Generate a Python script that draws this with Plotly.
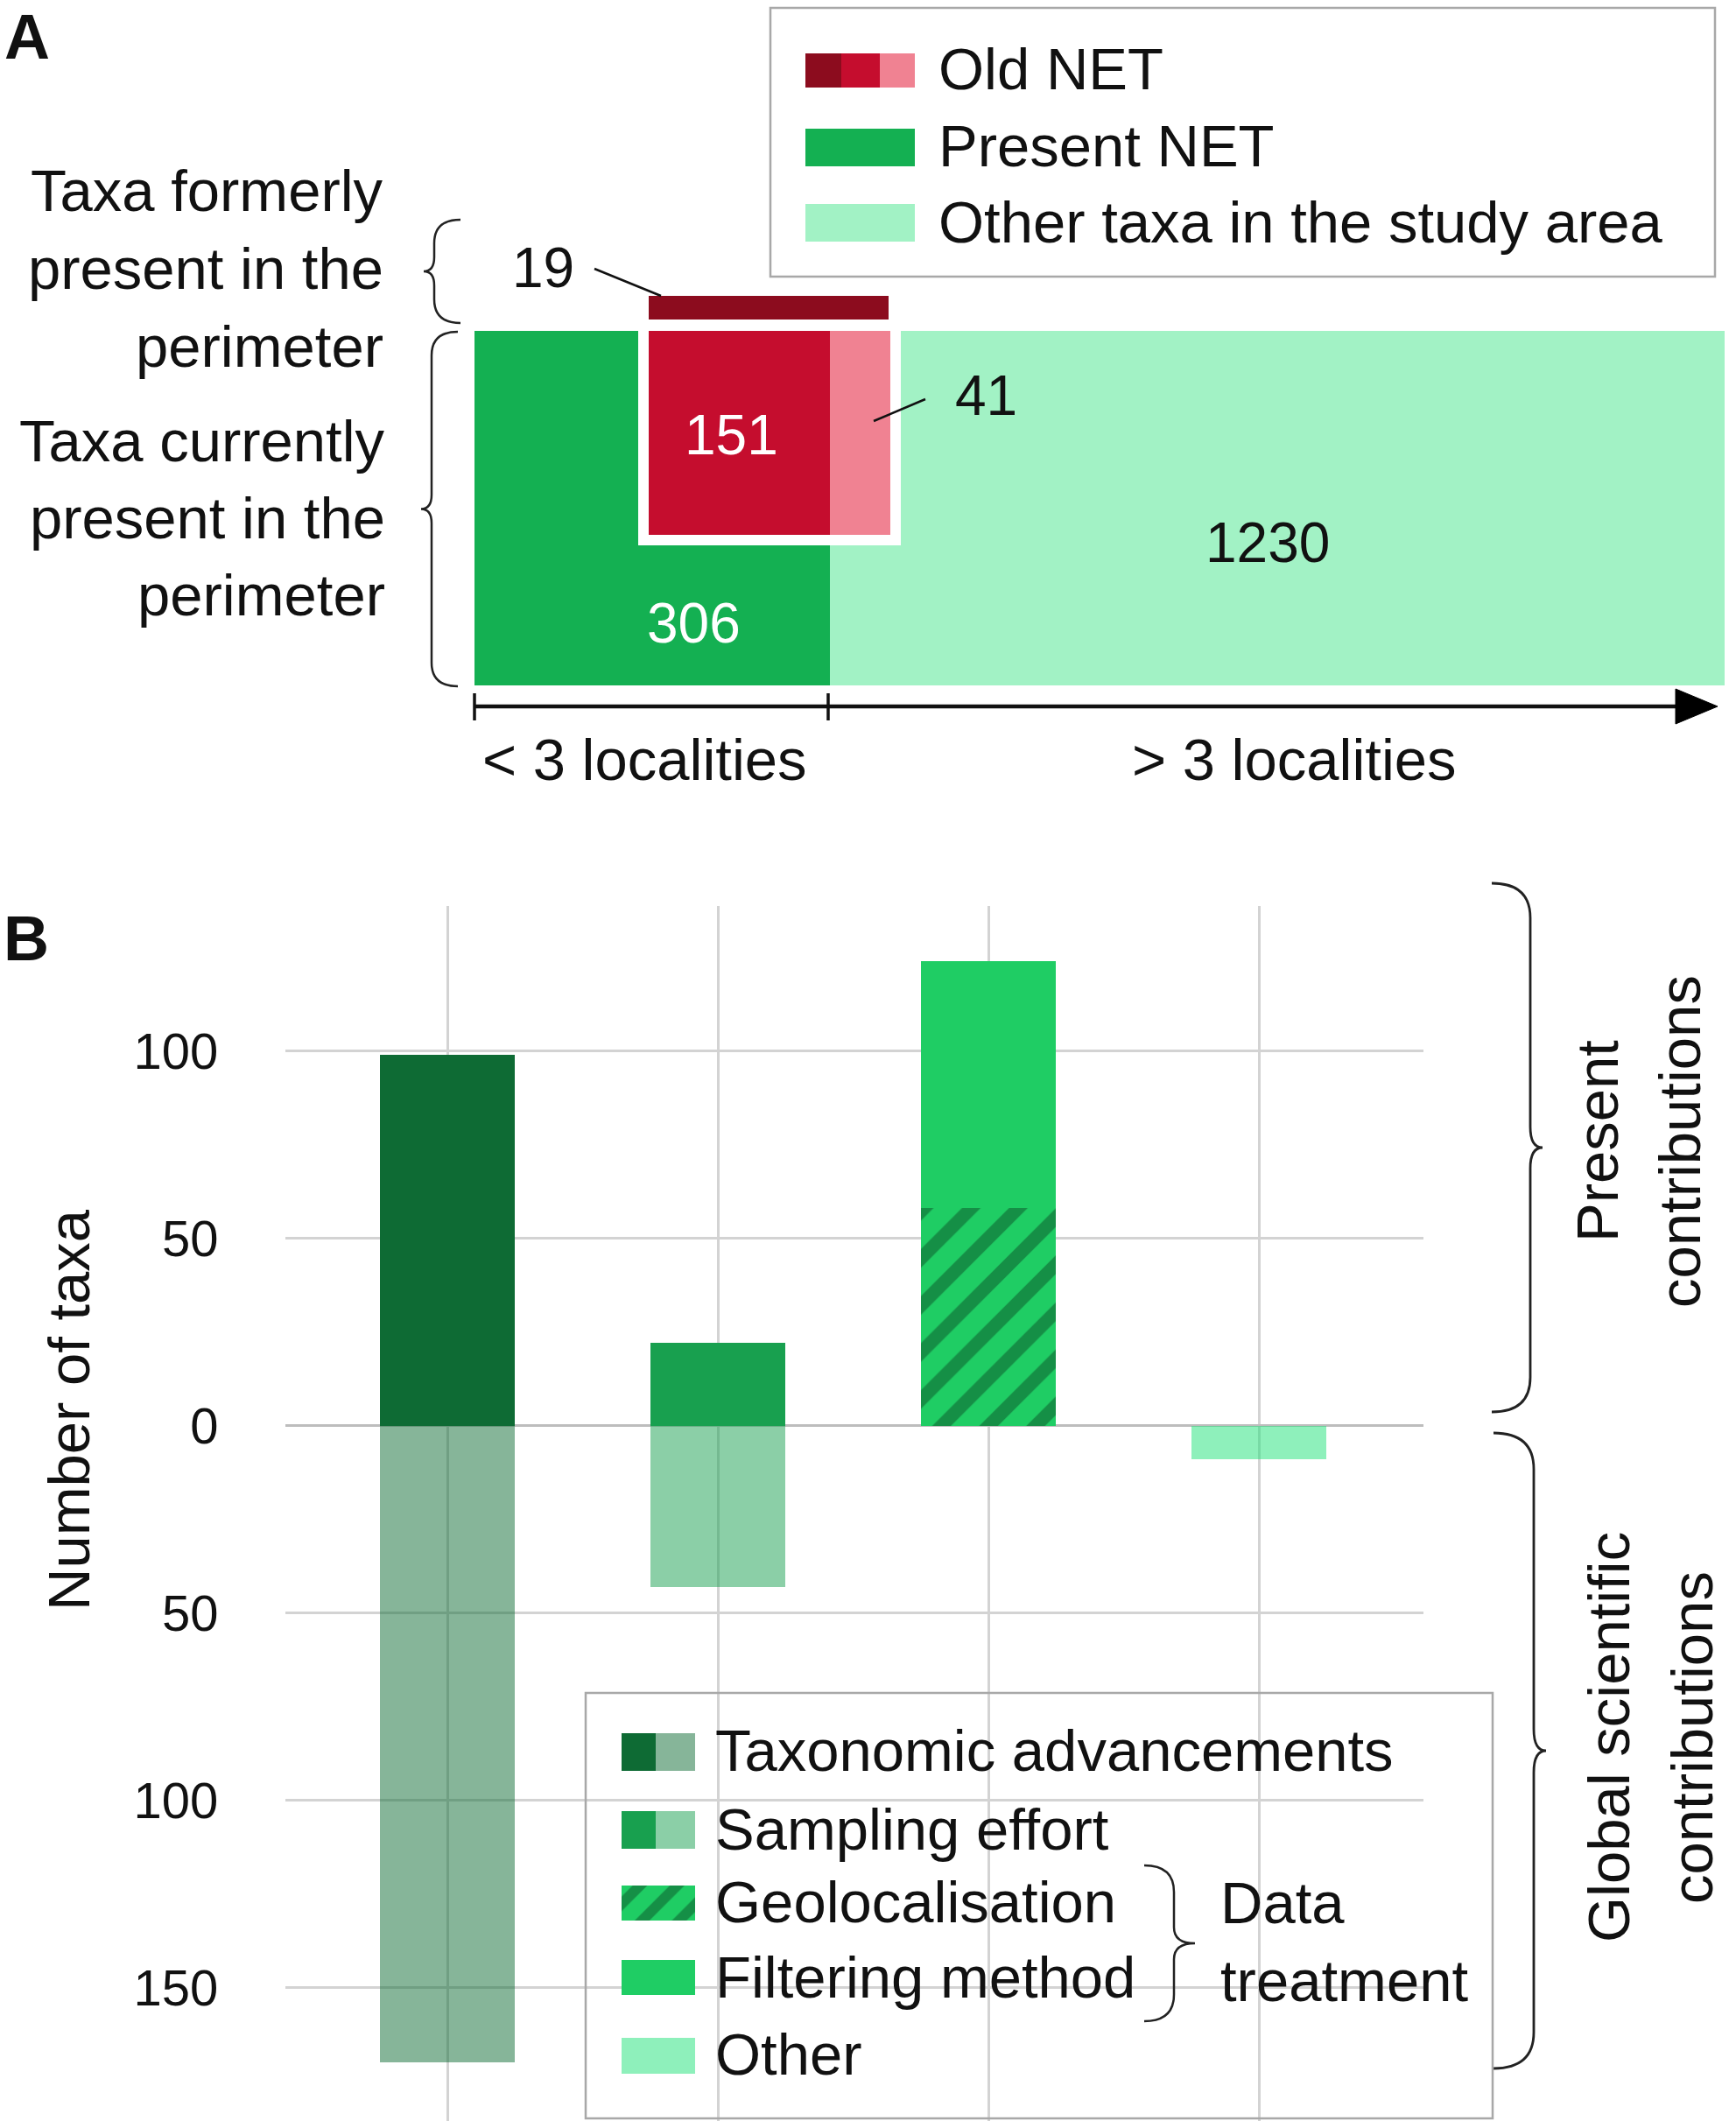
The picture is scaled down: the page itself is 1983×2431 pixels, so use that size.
import plotly.graph_objects as go

# ---------------- DATA ----------------
# Panel A (schematic counts)
former_old_net = 19          # taxa formerly present (old NET)
old_net_lt3 = 151            # old NET, < 3 localities, currently present
old_net_gt3 = 41             # old NET, > 3 localities, currently present
present_net = 306            # present NET
other_taxa = 1230            # other taxa in study area
axis_a_labels = ["< 3 localities", "> 3 localities"]
row_labels_former = ["Taxa formerly", "present in the", "perimeter"]
row_labels_current = ["Taxa currently", "present in the", "perimeter"]
legend_a_labels = ["Old NET", "Present NET", "Other taxa in the study area"]

# Panel B
categories = ["Taxonomic advancements", "Sampling effort", "Data treatment", "Other"]
cat_pos = [0, 1, 2, 3]
taxonomic_present = [99]
taxonomic_global = [170]
sampling_present = [22]
sampling_global = [43]
geolocalisation_present = [58]
filtering_present = [66]
other_global = [9]
y_tickvals = [100, 50, 0, -50, -100, -150]
y_ticktext = ["100", "50", "0", "50", "100", "150"]
legend_b_labels = ["Taxonomic advancements", "Sampling effort", "Geolocalisation",
                   "Filtering method", "Other"]

# ---------------- STYLE ----------------
W, H = 1983, 2431
FONT = "Liberation Sans, Arial, sans-serif"
TXT = "#111111"
FS = 67

C_TAX = "rgb(14,107,52)"
C_TAX_G = "rgba(14,107,52,0.5)"
C_SAMP = "rgb(24,160,79)"
C_SAMP_G = "rgba(24,160,79,0.5)"
C_FILT = "rgb(31,205,100)"
C_HATCH = "rgb(12,82,40)"
C_OTHER = "rgba(30,225,120,0.5)"

C_A_GREEN = "#14b052"
C_A_LIGHT = "#a2f2c5"
C_A_DARKRED = "#8c0c1e"
C_A_RED = "#c50d2e"
C_A_PINK = "#f08292"

fig = go.Figure()

# ---------------- PANEL B bars ----------------
BW = 0.5
fig.add_trace(go.Bar(x=[cat_pos[0]], y=taxonomic_present, width=BW, marker_color=C_TAX,
                     marker_line_width=0, name="Taxonomic advancements"))
fig.add_trace(go.Bar(x=[cat_pos[0]], y=[-v for v in taxonomic_global], width=BW,
                     marker_color=C_TAX_G, marker_line_width=0, name="Taxonomic (global)"))
fig.add_trace(go.Bar(x=[cat_pos[1]], y=sampling_present, width=BW, marker_color=C_SAMP,
                     marker_line_width=0, name="Sampling effort"))
fig.add_trace(go.Bar(x=[cat_pos[1]], y=[-v for v in sampling_global], width=BW,
                     marker_color=C_SAMP_G, marker_line_width=0, name="Sampling (global)"))
fig.add_trace(go.Bar(x=[cat_pos[2]], y=geolocalisation_present, width=BW,
                     marker=dict(color=C_FILT, line_width=0,
                                 pattern=dict(shape="/", fgcolor=C_HATCH, bgcolor=C_FILT,
                                              size=38, solidity=0.4, fillmode="overlay")),
                     name="Geolocalisation"))
fig.add_trace(go.Bar(x=[cat_pos[2]], y=filtering_present, base=geolocalisation_present,
                     width=BW, marker_color=C_FILT, marker_line_width=0,
                     name="Filtering method"))
fig.add_trace(go.Bar(x=[cat_pos[3]], y=[-v for v in other_global], width=BW,
                     marker_color=C_OTHER, marker_line_width=0, name="Other"))


# ---------------- overlay helpers (page coordinates) ----------------
def rect(x0, x1, y0, y1, color, pattern=None):
    m = dict(color=color, line_width=0)
    if pattern:
        m["pattern"] = pattern
    fig.add_trace(go.Bar(x=[(x0 + x1) / 2], y=[y1 - y0], base=[y0], width=[x1 - x0],
                         marker=m, xaxis="x2", yaxis="y2", hoverinfo="skip",
                         showlegend=False))


def text(x, y, s, size=FS, color=TXT, xanchor="center", angle=0, bold=False,
         yanchor="middle"):
    fig.add_annotation(x=x, y=y, xref="x2", yref="y2", text=("<b>%s</b>" % s) if bold else s,
                       showarrow=False, xanchor=xanchor, yanchor=yanchor, textangle=angle,
                       font=dict(family=FONT, size=size, color=color))


shapes = []


def line(x0, y0, x1, y1, width=2.5, color="#111"):
    shapes.append(dict(type="line", xref="x2", yref="y2", x0=x0, y0=y0, x1=x1, y1=y1,
                       line=dict(color=color, width=width), layer="above"))


def brace(xl, y0, y1, w, cusp, width=2.5):
    ym = (y0 + y1) / 2
    r = abs(w) * 0.9
    d = -1 if w > 0 else 1
    p = (f"M {xl + w},{y0} Q {xl},{y0} {xl},{y0 + r} L {xl},{ym - r * 0.6} "
         f"Q {xl},{ym} {xl + d * cusp},{ym} Q {xl},{ym} {xl},{ym + r * 0.6} "
         f"L {xl},{y1 - r} Q {xl},{y1} {xl + w},{y1}")
    shapes.append(dict(type="path", xref="x2", yref="y2", path=p,
                       line=dict(color="#222", width=width), layer="above"))


def box(x0, y0, x1, y1):
    shapes.append(dict(type="rect", xref="x2", yref="y2", x0=x0, y0=y0, x1=x1, y1=y1,
                       line=dict(color="#a8a8a8", width=2.5), fillcolor="rgba(0,0,0,0)",
                       layer="above"))


# ---------------- PANEL A ----------------
text(3, 0, "A", size=72, xanchor="left", bold=True, yanchor="top")

# mosaic
rect(542, 948, 378, 783, C_A_GREEN)
rect(948, 1970, 378, 783, C_A_LIGHT)
rect(729, 1029, 378, 623, "#ffffff")
rect(741, 948, 378, 611, C_A_RED)
rect(948, 1017, 378, 611, C_A_PINK)
rect(741, 1015, 338, 365, C_A_DARKRED)

text(835, 497, str(old_net_lt3), size=64, color="#ffffff")
text(792, 712, str(present_net), size=64, color="#ffffff")
text(1448, 620, str(other_taxa), size=64)
text(620, 306, str(former_old_net), size=64)
text(1126, 452, str(old_net_gt3), size=64)
line(679, 307, 755, 338)
line(998, 481, 1057, 456)

# row labels
for i, s in enumerate(row_labels_former):
    text(440, 217 + i * 89, s, xanchor="right")
for i, s in enumerate(row_labels_current):
    text(442, 503 + i * 88, s, xanchor="right")
brace(496, 251, 369, 30, 12)
brace(493, 379, 784, 30, 12)

# localities axis
line(542, 807, 1925, 807, width=4.5)
line(542, 792, 542, 823, width=3.5)
line(946, 792, 946, 823, width=3.5)
shapes.append(dict(type="path", xref="x2", yref="y2",
                   path="M 1914,787 L 1962,807 L 1914,827 Z",
                   fillcolor="#000", line=dict(color="#000", width=1), layer="above"))
text(736, 867, axis_a_labels[0])
text(1478, 867, axis_a_labels[1])

# legend A
box(880, 9, 1959, 316)
rect(920, 961, 61, 100, C_A_DARKRED)
rect(961, 1005, 61, 100, C_A_RED)
rect(1005, 1045, 61, 100, C_A_PINK)
rect(920, 1045, 147, 190, C_A_GREEN)
rect(920, 1045, 233, 276, C_A_LIGHT)
for s, yy in zip(legend_a_labels, [78, 166, 253]):
    text(1070, yy, s, xanchor="left")

# ---------------- PANEL B annotations ----------------
text(2, 1072, "B", size=72, xanchor="left", bold=True)
text(78, 1611, "Number of taxa", angle=-90)

brace(1748, 1009, 1613, -44, 14, width=2.8)
brace(1752, 1637, 2363, -46, 14, width=2.8)
text(1824, 1304, "Present", angle=-90)
text(1918, 1304, "contributions", angle=-90)
text(1837, 1985, "Global scientific", angle=-90)
text(1932, 1985, "contributions", angle=-90)

# legend B
box(669, 1934, 1705, 2420)
rect(710, 749, 1980, 2023, C_TAX)
rect(749, 794, 1980, 2023, C_TAX_G)
rect(710, 749, 2069, 2112, C_SAMP)
rect(749, 794, 2069, 2112, C_SAMP_G)
rect(710, 794, 2154, 2194, C_FILT,
     pattern=dict(shape="/", fgcolor=C_HATCH, bgcolor=C_FILT, size=30, solidity=0.4,
                  fillmode="overlay"))
rect(710, 794, 2239, 2279, C_FILT)
rect(710, 794, 2328, 2369, C_OTHER)
for s, yy in zip(legend_b_labels, [1999, 2089, 2172, 2258, 2346]):
    text(815, yy, s, xanchor="left")
brace(1341, 2131, 2309, -34, 24, width=2.5)
text(1392, 2173, "Data", xanchor="left")
text(1392, 2262, "treatment", xanchor="left")

# ---------------- LAYOUT ----------------
GRID = "#d3d3d3"
fig.update_layout(
    width=W, height=H,
    margin=dict(l=0, r=0, t=0, b=0),
    paper_bgcolor="white", plot_bgcolor="rgba(0,0,0,0)",
    barmode="overlay", bargap=0,
    showlegend=False,
    font=dict(family=FONT, color=TXT),
    xaxis=dict(domain=[326 / W, 1626 / W], range=[-0.599, 3.608], tickvals=cat_pos,
               showticklabels=False, showgrid=True, gridcolor=GRID, gridwidth=2.5,
               zeroline=False, showline=False, ticks="", fixedrange=True),
    yaxis=dict(domain=[1 - 2423 / H, 1 - 1035 / H], range=[-185.6, 138.7],
               tickvals=y_tickvals, ticktext=y_ticktext, showgrid=True, gridcolor=GRID,
               gridwidth=2.5, zeroline=True, zerolinecolor="#bdbdbd", zerolinewidth=3,
               ticks="outside", ticklen=64, tickcolor="rgba(0,0,0,0)",
               tickfont=dict(family=FONT, size=58, color=TXT), showline=False,
               fixedrange=True),
    xaxis2=dict(domain=[0, 1], range=[0, W], visible=False, anchor="y2", fixedrange=True),
    yaxis2=dict(domain=[0, 1], range=[H, 0], visible=False, anchor="x2", fixedrange=True),
    shapes=shapes,
)

fig.write_html("out.html", config={"displayModeBar": False},
               post_script="document.body.style.margin='0px';")
